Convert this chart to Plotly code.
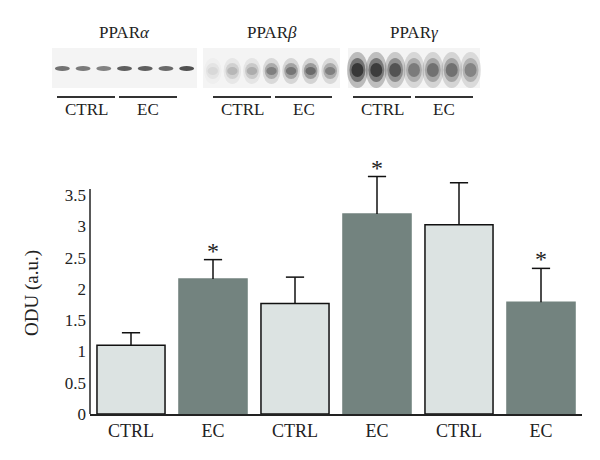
import plotly.graph_objects as go

# bar data
groups = ["CTRL", "EC", "CTRL", "EC", "CTRL", "EC"]
means = [1.10, 2.16, 1.77, 3.20, 3.03, 1.79]
errs = [0.20, 0.31, 0.42, 0.60, 0.67, 0.54]
signif = [False, True, False, True, False, True]
yticks = [0, 0.5, 1, 1.5, 2, 2.5, 3, 3.5]
y_axis_top = 3.6

# blot lane intensities (7 lanes each: 3 CTRL + 4 EC)
blots = ["PPAR<i>α</i>", "PPAR<i>β</i>", "PPAR<i>γ</i>"]
alpha_lanes = [0.80, 0.75, 0.70, 0.92, 0.92, 0.85, 1.00]
beta_lanes = [0.08, 0.18, 0.22, 0.40, 0.45, 0.50, 0.40]
gamma_lanes = [1.00, 0.95, 0.75, 0.50, 0.55, 0.55, 0.45]

CTRL_C = "#dce3e2"
EC_C = "#73837f"
FONT = "Liberation Serif"

# page body has an 8px margin, so the figure is drawn 8px in from the corner
OFF = 8
W, H = 600 - OFF, 460 - OFF
L, R, T, B = 90 - OFF, 18, 164 - OFF, 46
PW, PH = W - L - R, H - T - B


def px(x):
    return (x - OFF - L) / PW


def py(y):
    return (H - B - (y - OFF)) / PH


x = list(range(len(groups)))
colors = [CTRL_C if g == "CTRL" else EC_C for g in groups]
lines = ["#111111" if g == "CTRL" else EC_C for g in groups]

fig = go.Figure()
fig.add_trace(go.Bar(
    x=x, y=means,
    marker=dict(color=colors, line=dict(color=lines, width=1.5)),
    width=0.83, showlegend=False))

# upward-only error bars: stems and caps
stem_x, stem_y = [], []
for xi, m, e in zip(x, means, errs):
    stem_x += [xi, xi, None]
    stem_y += [m, m + e, None]
fig.add_trace(go.Scatter(x=stem_x, y=stem_y, mode="lines",
                         line=dict(color="#111111", width=1.5), showlegend=False,
                         hoverinfo="skip"))
fig.add_trace(go.Scatter(x=x, y=[m + e for m, e in zip(means, errs)], mode="markers",
                         marker=dict(symbol="line-ew", size=13,
                                     line=dict(color="#111111", width=1.5)),
                         showlegend=False))

annotations = []
for xi, m, e, s in zip(x, means, errs, signif):
    if s:
        annotations.append(dict(text="*", x=xi, y=m + e, xref="x", yref="y",
                                yanchor="middle", yshift=9, showarrow=False,
                                font=dict(family=FONT, size=24, color="#222")))

# western blot panels drawn as shapes
panels = [(52, 197, alpha_lanes, "a"), (203, 340, beta_lanes, "b"), (348, 480, gamma_lanes, "g")]
shapes = [dict(type="line", xref="paper", yref="y", x0=0, x1=0, y0=0, y1=y_axis_top,
               line=dict(color="#222", width=1.5))]
for (x0, x1, lanes, kind) in panels:
    shapes.append(dict(type="rect", xref="paper", yref="paper",
                       x0=px(x0), x1=px(x1), y0=py(88), y1=py(48),
                       fillcolor="#f4f4f4", line=dict(width=0), layer="below"))
    lw = (x1 - x0) / len(lanes)
    for i, v in enumerate(lanes):
        cx = x0 + lw * (i + 0.5)
        if kind == "a":
            hw, y0, y1 = lw * 0.36, 66, 71
            layers = [(1.0, 0)]
        elif kind == "b":
            hw, y0, y1 = lw * 0.45, 58, 84
            layers = [(0.4, 0), (0.8, 5), (1.0, 9)]
        else:
            hw, y0, y1 = lw * 0.55, 52, 88
            layers = [(0.35, 0), (0.6, 6), (0.9, 11)]
        for op, inset in layers:
            shapes.append(dict(type="circle", xref="paper", yref="paper",
                               x0=px(cx - hw + inset * 0.4), x1=px(cx + hw - inset * 0.4),
                               y0=py(y1 - inset), y1=py(y0 + inset),
                               fillcolor="#1a1a1a", opacity=v * op * 0.75,
                               line=dict(width=0), layer="below"))

for (x0, x1, lanes, kind), name in zip(panels, blots):
    annotations.append(dict(text=name, xref="paper", yref="paper", x=px((x0 + x1) / 2),
                            y=py(32), xanchor="center", yanchor="middle", showarrow=False,
                            font=dict(family=FONT, size=17, color="#222")))
group_lines = [((57, 115), (119, 177)), ((213, 271), (275, 332)), ((353, 411), (415, 473))]
for pair in group_lines:
    for (a, b), lab in zip(pair, ["CTRL", "EC"]):
        shapes.append(dict(type="line", xref="paper", yref="paper", x0=px(a), x1=px(b),
                           y0=py(97), y1=py(97), line=dict(color="#333", width=1.8)))
        annotations.append(dict(text=lab, xref="paper", yref="paper", x=px((a + b) / 2),
                                y=py(109), xanchor="center", yanchor="middle", showarrow=False,
                                font=dict(family=FONT, size=17, color="#222")))

# y axis title
annotations.append(dict(text="ODU (a.u.)", xref="paper", yref="paper", x=px(32), y=py(293),
                        xanchor="center", yanchor="middle", textangle=-90, showarrow=False,
                        font=dict(family=FONT, size=19, color="#222")))

fig.update_layout(
    width=W, height=H, margin=dict(l=L, r=R, t=T, b=B),
    paper_bgcolor="white", plot_bgcolor="white",
    font=dict(family=FONT, size=17, color="#222"),
    shapes=shapes, annotations=annotations,
    xaxis=dict(range=[-0.5, 5.5], tickvals=x, ticktext=groups, showgrid=False,
               showline=True, linecolor="#222", linewidth=1.5, ticks="",
               tickfont=dict(size=18), zeroline=False, automargin=False),
    yaxis=dict(range=[0, 4.0], tickvals=yticks, ticktext=[f"{t:g}" for t in yticks],
               showgrid=False, showline=False, ticks="", zeroline=False,
               tickfont=dict(size=17), automargin=False, ticklabelstandoff=3),
)

fig.write_html("out.html")
